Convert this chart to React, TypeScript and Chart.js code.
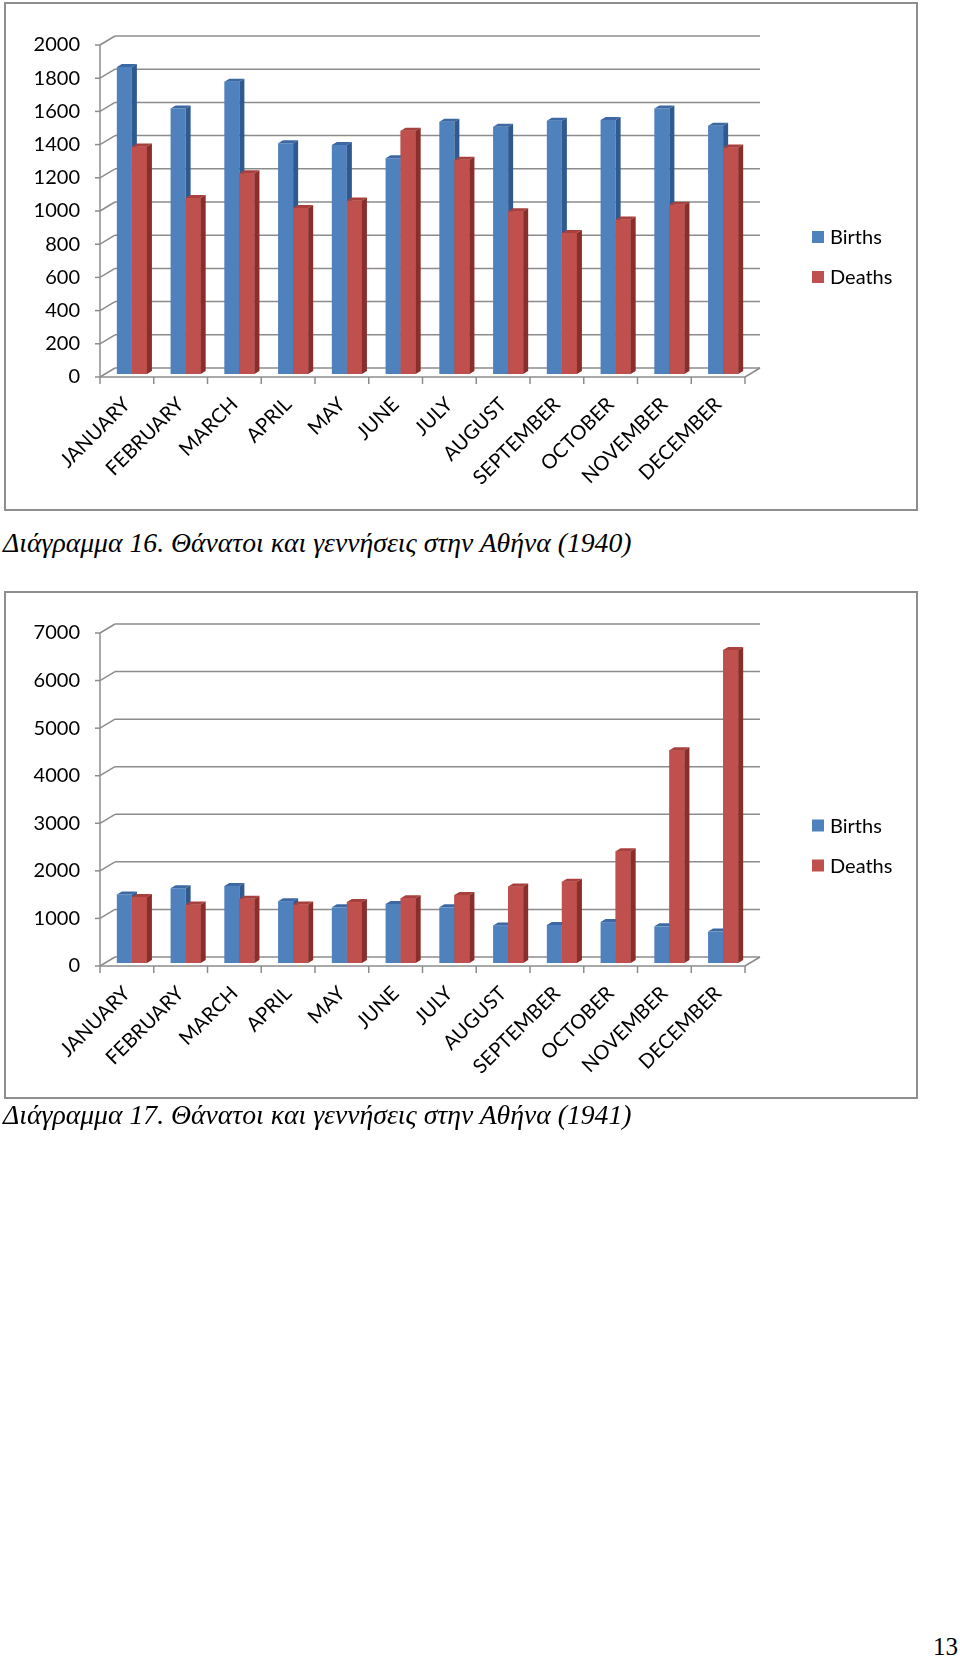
import React, { useEffect, useRef } from "react";
import { Chart, registerables } from "chart.js";

Chart.register(...registerables);

// ---------- data ----------
const MONTHS = [
  "JANUARY", "FEBRUARY", "MARCH", "APRIL", "MAY", "JUNE",
  "JULY", "AUGUST", "SEPTEMBER", "OCTOBER", "NOVEMBER", "DECEMBER",
];
const SERIES = ["Births", "Deaths"];

const BIRTHS_1940 = [1850, 1600, 1760, 1390, 1380, 1300, 1520, 1490, 1525, 1530, 1600, 1495];
const DEATHS_1940 = [1370, 1060, 1210, 1000, 1045, 1465, 1290, 980, 850, 930, 1020, 1365];
const Y_TICKS_1940 = [0, 200, 400, 600, 800, 1000, 1200, 1400, 1600, 1800, 2000];

const BIRTHS_1941 = [1440, 1570, 1620, 1300, 1170, 1240, 1170, 790, 800, 860, 770, 660];
const DEATHS_1941 = [1390, 1230, 1350, 1230, 1280, 1360, 1430, 1610, 1710, 2350, 4470, 6580];
const Y_TICKS_1941 = [0, 1000, 2000, 3000, 4000, 5000, 6000, 7000];

const CAPTION_1940 = "Διάγραμμα 16. Θάνατοι και γεννήσεις στην Αθήνα (1940)";
const CAPTION_1941 = "Διάγραμμα 17. Θάνατοι και γεννήσεις στην Αθήνα (1941)";
const PAGE_NUMBER = "13";

// ---------- styles ----------
const BLUE = { front: "#4F81BD", top: "#3C69A3", side: "#2F5A8F" };
const RED = { front: "#C0504D", top: "#A8403D", side: "#8A2E2C" };
const GRID = "#8c8c8c";
const FONT = "20px Lato";
const FRONT = { dx: -5, dy: 3 };
const BACK = { dx: 10, dy: -6 };
const DEPTH = { dx: 5, dy: -3 };

function makePlugin(ticks: number[]) {
  const line = (ctx: CanvasRenderingContext2D, x1: number, y1: number, x2: number, y2: number) => {
    ctx.beginPath();
    ctx.moveTo(x1, y1);
    ctx.lineTo(x2, y2);
    ctx.stroke();
  };
  const poly = (ctx: CanvasRenderingContext2D, pts: number[][], fill: string) => {
    ctx.beginPath();
    ctx.moveTo(pts[0][0], pts[0][1]);
    for (let i = 1; i < pts.length; i++) ctx.lineTo(pts[i][0], pts[i][1]);
    ctx.closePath();
    ctx.fillStyle = fill;
    ctx.fill();
  };
  return {
    id: "bar3d",
    beforeDatasetsDraw(chart: any) {
      const { ctx, chartArea, scales } = chart;
      const { left, right } = chartArea;
      const x = scales.x;
      const y = scales.y;
      const n = chart.data.labels.length;
      ctx.save();
      ctx.strokeStyle = GRID;
      ctx.lineWidth = 1.5;
      const fl = left + FRONT.dx;
      const fr = right + FRONT.dx;
      const bl = left + BACK.dx;
      const br = right + BACK.dx;
      for (const v of ticks) {
        const yp = y.getPixelForValue(v);
        const yf = yp + FRONT.dy;
        const yk = yp + BACK.dy;
        line(ctx, bl, yk, br, yk);
        line(ctx, fl, yf, bl, yk);
        line(ctx, fl - 5, yf, fl, yf);
      }
      const y0 = y.getPixelForValue(0);
      const y0f = y0 + FRONT.dy;
      const yTopF = y.getPixelForValue(ticks[ticks.length - 1]) + FRONT.dy;
      line(ctx, fl, yTopF, fl, y0f);
      line(ctx, fl, y0f, fr, y0f);
      line(ctx, fr, y0f, br, y0 + BACK.dy);
      const step = (right - left) / n;
      for (let i = 0; i <= n; i++) {
        const xb = left + i * step + FRONT.dx;
        line(ctx, xb, y0f, xb, y0f + 7);
      }
      // y tick labels
      ctx.fillStyle = "#000";
      ctx.font = FONT;
      ctx.textAlign = "right";
      ctx.textBaseline = "middle";
      for (const v of ticks) {
        ctx.fillText(String(v), fl - 20, y.getPixelForValue(v) + FRONT.dy);
      }
      // x labels
      chart.data.labels.forEach((lab: string, i: number) => {
        const cx = x.getPixelForValue(i) + FRONT.dx;
        ctx.save();
        ctx.translate(cx, y0f + 24);
        ctx.rotate(-Math.PI / 4);
        ctx.textAlign = "right";
        ctx.textBaseline = "middle";
        ctx.fillText(lab, 0, 0);
        ctx.restore();
      });
      // legend
      const mid = (chartArea.top + chartArea.bottom) / 2 + 49;
      chart.data.datasets.forEach((ds: any, k: number) => {
        const cy = mid - 20 + k * 40;
        ctx.fillStyle = ds.backgroundColor;
        ctx.fillRect(right + 62, cy - 6, 12, 12);
        ctx.fillStyle = "#000";
        ctx.textAlign = "left";
        ctx.textBaseline = "middle";
        ctx.fillText(ds.label, right + 80, cy + 1);
      });
      ctx.restore();
    },
    afterDatasetsDraw(chart: any) {
      const { ctx } = chart;
      const metas = [chart.getDatasetMeta(0), chart.getDatasetMeta(1)];
      const cols = [BLUE, RED];
      const n = chart.data.labels.length;
      ctx.save();
      for (let i = 0; i < n; i++) {
        metas.forEach((meta: any, k: number) => {
          const el = meta.data[i];
          if (!el) return;
          if (k > 0) el.draw(ctx);
          const p = el.getProps(["x", "y", "base", "width"], true);
          const l = p.x - p.width / 2;
          const r = p.x + p.width / 2;
          poly(ctx, [[l, p.y], [r, p.y], [r + DEPTH.dx, p.y + DEPTH.dy], [l + DEPTH.dx, p.y + DEPTH.dy]], cols[k].top);
          poly(ctx, [[r, p.y], [r + DEPTH.dx, p.y + DEPTH.dy], [r + DEPTH.dx, p.base + DEPTH.dy], [r, p.base]], cols[k].side);
        });
      }
      ctx.restore();
    },
  };
}

type BlockProps = {
  top: number;
  births: number[];
  deaths: number[];
  ticks: number[];
  padTop: number;
  padBottom: number;
};

function ChartBlock({ top, births, deaths, ticks, padTop, padBottom }: BlockProps) {
  const ref = useRef<HTMLCanvasElement | null>(null);
  useEffect(() => {
    if (!ref.current) return;
    let alive = true;
    const chart = new Chart(ref.current, {
      type: "bar",
      data: {
        labels: MONTHS,
        datasets: [
          { label: SERIES[0], data: births, backgroundColor: BLUE.front, borderWidth: 0, barPercentage: 1, categoryPercentage: 0.56 },
          { label: SERIES[1], data: deaths, backgroundColor: RED.front, borderWidth: 0, barPercentage: 1, categoryPercentage: 0.56 },
        ],
      },
      options: {
        responsive: false,
        maintainAspectRatio: false,
        animation: false,
        events: [],
        layout: { padding: { left: 105, right: 210, top: padTop, bottom: padBottom } },
        plugins: { legend: { display: false }, tooltip: { enabled: false }, title: { display: false } },
        scales: {
          x: { display: false, offset: true },
          y: { display: false, min: 0, max: ticks[ticks.length - 1] },
        },
      },
      plugins: [makePlugin(ticks)],
    } as any);
    if ((document as any).fonts) {
      (document as any).fonts.load(FONT).then(() => {
        if (alive) chart.update();
      });
    }
    return () => {
      alive = false;
      chart.destroy();
    };
  }, []);
  return (
    <canvas
      ref={ref}
      width={960}
      height={512}
      style={{ position: "absolute", left: 0, top, width: 960, height: 512 }}
    />
  );
}

const captionStyle: React.CSSProperties = {
  position: "absolute",
  left: 3,
  fontFamily: "'Liberation Serif', 'Times New Roman', serif",
  fontStyle: "italic",
  fontSize: 27.7,
  lineHeight: "27.7px",
  whiteSpace: "nowrap",
  color: "#000",
};

export default function App() {
  return (
    <div style={{ position: "absolute", left: 0, top: 0, width: 960, height: 1659, overflow: "hidden", background: "#fff" }}>
      <div style={{ position: "absolute", left: 4, top: 2, width: 914, height: 509, border: "2px solid #8e8e8e", boxSizing: "border-box" }} />
      <div style={{ position: "absolute", left: 4, top: 591, width: 914, height: 508, border: "2px solid #8e8e8e", boxSizing: "border-box" }} />
      <ChartBlock top={0} births={BIRTHS_1940} deaths={DEATHS_1940} ticks={Y_TICKS_1940} padTop={42} padBottom={138} />
      <ChartBlock top={590} births={BIRTHS_1941} deaths={DEATHS_1941} ticks={Y_TICKS_1941} padTop={40} padBottom={139} />
      <div style={{ ...captionStyle, top: 528.8 }}>{CAPTION_1940}</div>
      <div style={{ ...captionStyle, top: 1100.8 }}>{CAPTION_1941}</div>
      <div
        style={{
          position: "absolute",
          right: 2,
          top: 1634,
          fontFamily: "'Liberation Serif', 'Times New Roman', serif",
          fontSize: 25,
          lineHeight: "25px",
          color: "#000",
        }}
      >
        {PAGE_NUMBER}
      </div>
    </div>
  );
}
